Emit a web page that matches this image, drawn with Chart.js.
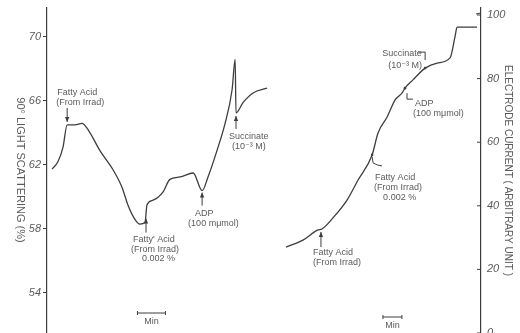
<!DOCTYPE html>
<html>
<head>
<meta charset="utf-8">
<script src="https://cdn.jsdelivr.net/npm/chart.js@4.4.1/dist/chart.umd.min.js"></script>
<style>
  html, body { margin: 0; padding: 0; background: #fff; }
  #wrap { position: relative; width: 520px; height: 333px; }
</style>
</head>
<body>
<div id="wrap"><canvas id="c" width="520" height="333"></canvas></div>
<script>
// Light scattering trace (time in minutes, 90° scattering in %)
const scatterTime = [0.00, 0.21, 0.39, 0.54, 0.82, 1.07, 1.29, 1.71, 2.18, 2.50,
                     2.71, 2.96, 3.14, 3.32, 3.39, 3.61, 3.96, 4.21, 4.57, 5.04,
                     5.36, 5.57, 5.89, 6.18, 6.43, 6.54, 6.57, 6.82, 7.18, 7.68];
const scatterValue = [61.75, 62.2, 63.1, 64.5, 64.5, 64.6, 64.2, 62.9, 61.7, 60.6,
                      59.5, 58.6, 58.3, 58.4, 59.5, 59.8, 60.3, 61.1, 61.25, 61.5,
                      60.4, 61.25, 62.9, 64.6, 66.7, 68.6, 65.25, 65.9, 66.5, 66.8];

// Oxygen electrode trace (time in minutes, current in arbitrary units)
const currentTime = [0.00, 0.89, 1.68, 1.89, 2.47, 3.21, 3.79, 4.53, 4.84, 5.32,
                     5.74, 6.11, 6.26, 6.68, 7.32, 7.95, 8.63, 8.89, 9.00, 9.16, 10.05];
const currentValue = [27.0, 29.2, 32.4, 32.7, 36.2, 41.8, 48.1, 56.0, 62.9, 67.9,
                      73.3, 75.5, 77.0, 79.6, 83.3, 84.9, 86.5, 93.1, 96.2, 96.2, 96.2];

const scatterTicks = [54, 58, 62, 66, 70];
const currentTicks = [0, 20, 40, 60, 80, 100];

const INK = '#3d3d3d';
const TEXT = '#5a5a5a';
const FAMILY = '"Liberation Sans", "DejaVu Sans", sans-serif';
const NOTE_FONT = '9px ' + FAMILY;

// Additions marked on each trace: anchored to a sample of the trace
const notes = [
  { trace: 'L', at: 3, arrow: [0, -17, 0, -3],
    lines: [['Fatty Acid', -10, -32], ['(From Irrad)', -11, -22]] },
  { trace: 'L', at: 13, arrow: [1, 10, 1, -4],
    lines: [["Fatty' Acid", -12, 17], ['(From Irrad)', -14, 27], ['0.002 %', -3, 36]] },
  { trace: 'L', at: 20, arrow: [0, 15, 0, 2],
    lines: [['ADP', -7, 23], ['(100 mμmol)', -14, 33]] },
  { trace: 'L', at: 26, arrow: [0, 16, 0, 3],
    lines: [['Succinate', -7, 24], ['(10⁻³ M)', -4, 34]] },
  { trace: 'R', at: 3, arrow: [-1, 18, -1, 3],
    lines: [['Fatty Acid', -9, 24], ['(From Irrad)', -9, 34]] },
  { trace: 'R', at: 7, hook: [[0, 2], [1, 8], [5, 10], [10, 11]],
    lines: [['Fatty Acid', 3, 23], ['(From Irrad)', 2, 33], ['0.002 %', 11, 43]] },
  { trace: 'R', at: 12, hook: [[2, 5], [2, 11], [8, 11]],
    lines: [['ADP', 10, 15], ['(100 mμmol)', 8, 25]] },
  { trace: 'R', at: 14, hook: [[-7, -16], [0, -16], [0, -8]],
    lines: [['Succinate', -43, -15], ['(10⁻³ M)', -37, -3]] }
];

// One-minute time bars under each trace
const minuteBars = [
  { axis: 'xL', from: 3.05, to: 4.05, y: 313 },
  { axis: 'xR', from: 5.10, to: 6.10, y: 317 }
];

function arrowHead(ctx, x, y, dir) {
  ctx.beginPath();
  ctx.moveTo(x, y);
  ctx.lineTo(x - 2.2, y - 5 * dir);
  ctx.lineTo(x + 2.2, y - 5 * dir);
  ctx.closePath();
  ctx.fill();
}

const notesPlugin = {
  id: 'notes',
  afterDatasetsDraw(chart) {
    const ctx = chart.ctx;
    const s = chart.scales;
    ctx.save();
    ctx.lineWidth = 1;
    ctx.font = NOTE_FONT;
    ctx.textBaseline = 'middle';
    ctx.textAlign = 'left';
    notes.forEach(n => {
      const left = n.trace === 'L';
      const t = left ? scatterTime[n.at] : currentTime[n.at];
      const v = left ? scatterValue[n.at] : currentValue[n.at];
      const px = (left ? s.xL : s.xR).getPixelForValue(t);
      const py = (left ? s.yL : s.yR).getPixelForValue(v);
      ctx.strokeStyle = INK;
      ctx.fillStyle = INK;
      if (n.arrow) {
        const [x1, y1, x2, y2] = n.arrow;
        ctx.beginPath();
        ctx.moveTo(px + x1, py + y1);
        ctx.lineTo(px + x2, py + y2);
        ctx.stroke();
        arrowHead(ctx, px + x2, py + y2, y2 > y1 ? 1 : -1);
      }
      if (n.hook) {
        ctx.beginPath();
        n.hook.forEach(([dx, dy], i) => {
          if (i === 0) ctx.moveTo(px + dx, py + dy); else ctx.lineTo(px + dx, py + dy);
        });
        ctx.stroke();
        ctx.beginPath();
        ctx.arc(px, py, 1.3, 0, Math.PI * 2);
        ctx.fill();
      }
      ctx.fillStyle = TEXT;
      n.lines.forEach(([txt, dx, dy]) => ctx.fillText(txt, px + dx, py + dy));
    });

    // minute bars
    minuteBars.forEach(b => {
      const x1 = s[b.axis].getPixelForValue(b.from);
      const x2 = s[b.axis].getPixelForValue(b.to);
      ctx.strokeStyle = INK;
      ctx.beginPath();
      ctx.moveTo(x1, b.y); ctx.lineTo(x2, b.y);
      ctx.moveTo(x1, b.y - 2); ctx.lineTo(x1, b.y + 2);
      ctx.moveTo(x2, b.y - 2); ctx.lineTo(x2, b.y + 2);
      ctx.stroke();
      ctx.fillStyle = TEXT;
      ctx.textAlign = 'center';
      ctx.fillText('Min', (x1 + x2) / 2, b.y + 9);
      ctx.textAlign = 'left';
    });

    // left axis title, reading downward
    ctx.save();
    ctx.translate(20, 170);
    ctx.rotate(Math.PI / 2);
    ctx.textAlign = 'center';
    ctx.font = '11px ' + FAMILY;
    ctx.fillStyle = TEXT;
    ctx.fillText('90° LIGHT SCATTERING (%)', 0, 0);
    ctx.restore();

    // current axis: inward tick marks and the small hook at its top
    const ra = s.yR;
    const xr = chart.chartArea.right;
    ctx.strokeStyle = INK;
    ctx.beginPath();
    currentTicks.forEach(v => {
      const y = ra.getPixelForValue(v);
      ctx.moveTo(xr - 4, y);
      ctx.lineTo(xr, y);
    });
    const ty = ra.getPixelForValue(100);
    ctx.moveTo(xr - 5, ty - 1);
    ctx.lineTo(xr, ty - 2);
    ctx.stroke();
    ctx.restore();
  }
};

const tickFont = { family: FAMILY, size: 11, style: 'italic' };

// keep the plot area free of the label overhang so the axes run to the edges
function fitY(width) {
  return sc => { sc.width = width; sc.paddingTop = 0; sc.paddingBottom = 0; };
}

new Chart(document.getElementById('c'), {
  type: 'line',
  data: {
    datasets: [
      {
        label: '90° light scattering',
        data: scatterTime.map((t, i) => ({ x: t, y: scatterValue[i] })),
        xAxisID: 'xL', yAxisID: 'yL',
        borderColor: INK, borderWidth: 1.3, pointRadius: 0,
        cubicInterpolationMode: 'monotone', fill: false
      },
      {
        label: 'Electrode current',
        data: currentTime.map((t, i) => ({ x: t, y: currentValue[i] })),
        xAxisID: 'xR', yAxisID: 'yR',
        borderColor: INK, borderWidth: 1.3, pointRadius: 0,
        cubicInterpolationMode: 'monotone', fill: false
      }
    ]
  },
  options: {
    responsive: false,
    animation: false,
    layout: { padding: { top: 8, right: 0, bottom: 0, left: 0 } },
    plugins: { legend: { display: false }, tooltip: { enabled: false } },
    scales: {
      xL: { type: 'linear', display: false, min: -0.18, max: 15.32 },
      xR: { type: 'linear', display: false, min: -12.58, max: 10.26 },
      yL: {
        position: 'left', min: 51.5, max: 71.81,
        afterBuildTicks: sc => { sc.ticks = scatterTicks.map(v => ({ value: v })); },
        afterFit: fitY(47),
        ticks: { font: tickFont, color: TEXT, padding: 2 },
        grid: { drawOnChartArea: false, tickLength: 4, color: INK },
        border: { color: INK, width: 1.2 }
      },
      yR: {
        position: 'right', min: 0, max: 102.2,
        afterBuildTicks: sc => { sc.ticks = currentTicks.map(v => ({ value: v })); },
        afterFit: fitY(39),
        ticks: { font: tickFont, color: TEXT, padding: 6 },
        grid: { drawOnChartArea: false, drawTicks: false, tickLength: 0 },
        border: { color: INK, width: 1.2 },
        title: {
          display: true,
          text: 'ELECTRODE CURRENT ( ARBITRARY UNIT )',
          color: TEXT,
          font: { family: FAMILY, size: 10 },
          padding: { top: 6, bottom: 0 }
        }
      }
    }
  },
  plugins: [notesPlugin]
});
</script>
</body>
</html>
